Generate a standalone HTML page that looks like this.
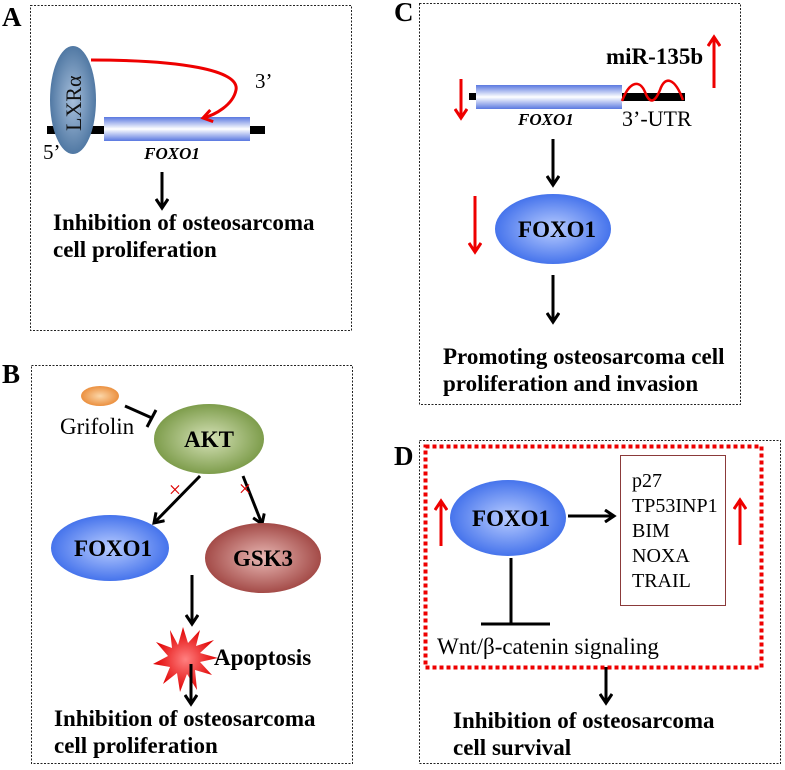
<!DOCTYPE html>
<html><head><meta charset="utf-8"><style>
html,body{margin:0;padding:0;background:#fff;}
svg{display:block;font-family:"Liberation Serif",serif;}
.b{font-weight:bold;}
</style></head><body>
<svg width="785" height="770" viewBox="0 0 785 770" xmlns="http://www.w3.org/2000/svg">
<defs>
<linearGradient id="bar" x1="0" y1="0" x2="0" y2="1">
<stop offset="0" stop-color="#5a78e0"/><stop offset="0.5" stop-color="#ffffff"/><stop offset="1" stop-color="#5a78e0"/></linearGradient>
<radialGradient id="lxr" cx="0.5" cy="0.5" r="0.6"><stop offset="0" stop-color="#a8c0dc"/><stop offset="1" stop-color="#3f6a98"/></radialGradient>
<radialGradient id="blue" cx="0.5" cy="0.5" r="0.6"><stop offset="0" stop-color="#b8ccff"/><stop offset="1" stop-color="#2f62e8"/></radialGradient>
<radialGradient id="green" cx="0.5" cy="0.5" r="0.6"><stop offset="0" stop-color="#d6e2b8"/><stop offset="1" stop-color="#6c8f36"/></radialGradient>
<radialGradient id="brown" cx="0.5" cy="0.5" r="0.6"><stop offset="0" stop-color="#e8b8b4"/><stop offset="1" stop-color="#963532"/></radialGradient>
<radialGradient id="orange" cx="0.5" cy="0.5" r="0.6"><stop offset="0" stop-color="#fbd6a8"/><stop offset="1" stop-color="#e8822a"/></radialGradient>
<radialGradient id="star" cx="0.5" cy="0.5" r="0.5"><stop offset="0" stop-color="#ff8080"/><stop offset="1" stop-color="#e00000"/></radialGradient>
<marker id="ak" markerWidth="14" markerHeight="14" refX="10" refY="7" orient="auto" markerUnits="userSpaceOnUse"><path d="M1,1 L10,7 L1,13" fill="none" stroke="#000" stroke-width="3"/></marker>
<marker id="ar" markerWidth="14" markerHeight="14" refX="10" refY="7" orient="auto" markerUnits="userSpaceOnUse"><path d="M1,1 L10,7 L1,13" fill="none" stroke="#e00" stroke-width="3"/></marker>
</defs>
<g fill="none" stroke="#222" stroke-width="1" stroke-dasharray="2,1.5">
<rect x="30.5" y="5.5" width="321" height="325"/>
<rect x="31.5" y="365.5" width="321" height="398"/>
<rect x="419.5" y="3.5" width="321" height="401"/>
<rect x="419.5" y="440.5" width="361" height="323"/>
</g>
<g class="b" font-size="27">
<text x="2" y="26">A</text><text x="2" y="383">B</text><text x="394" y="21">C</text><text x="394" y="465">D</text>
</g>
<!-- Panel A -->
<rect x="47" y="126" width="218" height="8" fill="#000"/>
<rect x="104" y="117" width="146" height="24" fill="url(#bar)"/>
<ellipse cx="73" cy="100" rx="23" ry="54" fill="url(#lxr)"/>
<text transform="translate(81,131) rotate(-90)" font-size="22" fill="#111">LXRα</text>
<path d="M91,60 C180,60 240,70 236,90 C233,105 215,115 203,118" fill="none" stroke="#e00" stroke-width="3" marker-end="url(#ar)"/>
<text x="255" y="88" font-size="21">3’</text>
<text x="43" y="159" font-size="21">5’</text>
<text x="172" y="159" font-size="17" class="b" font-style="italic" text-anchor="middle">FOXO1</text>
<line x1="162" y1="172" x2="162" y2="208" stroke="#000" stroke-width="3" marker-end="url(#ak)"/>
<text x="53" y="230" font-size="23" class="b">Inhibition of osteosarcoma</text>
<text x="53" y="257" font-size="23" class="b">cell proliferation</text>
<!-- Panel B -->
<ellipse cx="100" cy="396" rx="19" ry="10" fill="url(#orange)"/>
<text x="60" y="434" font-size="23">Grifolin</text>
<line x1="125" y1="406" x2="152" y2="418" stroke="#000" stroke-width="3"/>
<line x1="147" y1="427" x2="156" y2="410" stroke="#000" stroke-width="3"/>
<ellipse cx="209" cy="439" rx="55" ry="35" fill="url(#green)"/>
<text x="209" y="447" font-size="23" class="b" text-anchor="middle">AKT</text>
<line x1="200" y1="476" x2="154" y2="523" stroke="#000" stroke-width="3" marker-end="url(#ak)"/>
<line x1="243" y1="476" x2="262" y2="524" stroke="#000" stroke-width="3" marker-end="url(#ak)"/>
<text x="175" y="497" font-size="22" fill="#d00" text-anchor="middle">×</text>
<text x="245" y="496" font-size="22" fill="#d00" text-anchor="middle">×</text>
<ellipse cx="110" cy="548" rx="59" ry="33" fill="url(#blue)"/>
<text x="113" y="556" font-size="23" class="b" text-anchor="middle">FOXO1</text>
<ellipse cx="263" cy="558" rx="58" ry="35" fill="url(#brown)"/>
<text x="263" y="566" font-size="23" class="b" text-anchor="middle">GSK3</text>
<line x1="192" y1="575" x2="192" y2="624" stroke="#000" stroke-width="3" marker-end="url(#ak)"/>
<polygon fill="url(#star)" points="183,627 188,643 200,630 196,646 214,640 200,653 218,658 200,662 212,675 195,670 197,690 187,674 180,692 177,673 163,684 170,667 153,664 168,656 156,642 172,648 170,630 178,645" />
<text x="214" y="665" font-size="23" class="b">Apoptosis</text>
<line x1="191" y1="664" x2="191" y2="704" stroke="#000" stroke-width="3" marker-end="url(#ak)"/>
<text x="54" y="726" font-size="23" class="b">Inhibition of osteosarcoma</text>
<text x="54" y="753" font-size="23" class="b">cell proliferation</text>
<!-- Panel C -->
<rect x="469" y="93" width="8" height="7" fill="#000"/>
<rect x="622" y="93" width="63" height="8" fill="#000"/>
<rect x="476" y="85" width="146" height="24" fill="url(#bar)"/>
<path d="M622,101 C630,80 640,80 645,92 C650,105 655,102 660,90 C665,75 675,78 683,100" fill="none" stroke="#e00" stroke-width="2.5"/>
<text x="518" y="125" font-size="17" class="b" font-style="italic">FOXO1</text>
<text x="622" y="126" font-size="22">3’-UTR</text>
<text x="606" y="64" font-size="23" class="b">miR-135b</text>
<line x1="714" y1="88" x2="714" y2="37" stroke="#e00" stroke-width="3" marker-end="url(#ar)"/>
<line x1="461" y1="79" x2="461" y2="118" stroke="#e00" stroke-width="3" marker-end="url(#ar)"/>
<line x1="553" y1="139" x2="553" y2="185" stroke="#000" stroke-width="3" marker-end="url(#ak)"/>
<ellipse cx="553" cy="229" rx="58" ry="35" fill="url(#blue)"/>
<text x="557" y="237" font-size="23" class="b" text-anchor="middle">FOXO1</text>
<line x1="475" y1="196" x2="475" y2="252" stroke="#e00" stroke-width="3" marker-end="url(#ar)"/>
<line x1="553" y1="275" x2="553" y2="322" stroke="#000" stroke-width="3" marker-end="url(#ak)"/>
<text x="443" y="364" font-size="23" class="b">Promoting osteosarcoma cell</text>
<text x="443" y="391" font-size="23" class="b">proliferation and invasion</text>
<!-- Panel D -->
<rect x="425.5" y="446.5" width="336" height="221" fill="none" stroke="#e00" stroke-width="4" stroke-dasharray="4,3"/>
<rect x="620.5" y="455.5" width="105" height="150" fill="none" stroke="#8b3a3a" stroke-width="1"/>
<ellipse cx="508" cy="518" rx="58" ry="38" fill="url(#blue)"/>
<text x="511" y="526" font-size="23" class="b" text-anchor="middle">FOXO1</text>
<line x1="568" y1="516" x2="614" y2="516" stroke="#000" stroke-width="3" marker-end="url(#ak)"/>
<line x1="441" y1="546" x2="441" y2="501" stroke="#e00" stroke-width="3" marker-end="url(#ar)"/>
<line x1="740" y1="545" x2="740" y2="500" stroke="#e00" stroke-width="3" marker-end="url(#ar)"/>
<line x1="511" y1="558" x2="511" y2="624" stroke="#000" stroke-width="3"/>
<line x1="481" y1="624" x2="550" y2="624" stroke="#000" stroke-width="3"/>
<text x="437" y="654" font-size="23">Wnt/β-catenin signaling</text>
<g font-size="20"><text x="632" y="487">p27</text><text x="632" y="512">TP53INP1</text><text x="632" y="537">BIM</text><text x="632" y="562">NOXA</text><text x="632" y="587">TRAIL</text></g>
<line x1="606" y1="667" x2="606" y2="703" stroke="#000" stroke-width="3" marker-end="url(#ak)"/>
<text x="453" y="728" font-size="23" class="b">Inhibition of osteosarcoma</text>
<text x="453" y="755" font-size="23" class="b">cell survival</text>
</svg>
</body></html>
